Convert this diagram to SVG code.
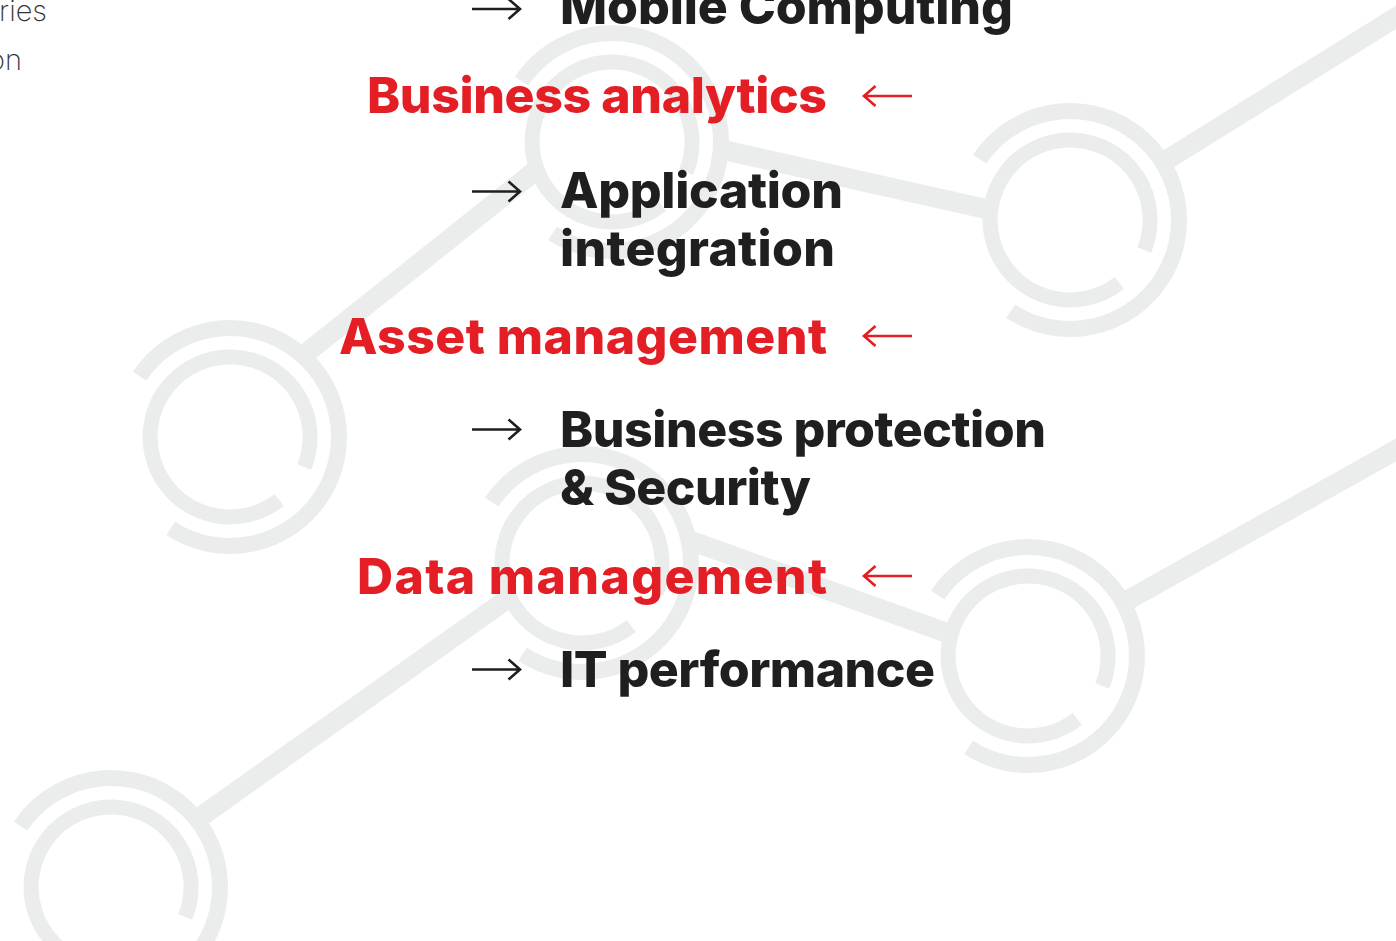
<svg xmlns="http://www.w3.org/2000/svg" width="1396" height="941" viewBox="0 0 1396 941">
  <style>
    .bg { fill: #ffffff; }
    .link { stroke: #ebecec; stroke-width: 20; fill: none; stroke-linecap: butt; }
    .outer { stroke: #ebecec; stroke-width: 16; fill: none; stroke-linecap: butt; }
    .inner { stroke: #ebecec; stroke-width: 15; fill: none; stroke-linecap: butt; }
    .lbl { font-family: Inter, "Liberation Sans", sans-serif; font-weight: 800; font-size: 50px; }
    .dark { fill: #1f1f1f; }
    .red { fill: #e31e25; }
    .thin { font-family: Inter, "Liberation Sans", sans-serif; font-weight: 200; font-size: 29px; fill: #333333; }
    .arr-dark { stroke: #1f1f1f; stroke-width: 2.6; fill: none; stroke-linecap: butt; stroke-linejoin: miter; }
    .arr-red { stroke: #e31e25; stroke-width: 2.6; fill: none; stroke-linecap: butt; stroke-linejoin: miter; }
  </style>
  <defs>
    <g id="ring">
      <path class="outer" d="M -90.4 -60.9 A 109 109 0 1 1 -59.4 91.4"/>
      <path class="inner" d="M 49.3 63 A 80 80 0 1 1 74.2 30"/>
    </g>
    <path id="arrow-right" d="M 0 0 H 48 M 36.5 -10 L 48 0 L 36.5 10"/>
    <path id="arrow-left" d="M 50 0 H 2 M 13.5 -10 L 2 0 L 13.5 10"/>
  </defs>
  <rect class="bg" x="0" y="0" width="1396" height="941"/>

  <g id="connectors">
    <line class="link" x1="1162.6" y1="162.5" x2="1427" y2="-2"/>
    <line class="link" x1="720.8" y1="149.4" x2="990.5" y2="210.1"/>
    <line class="link" x1="302.9" y1="355.8" x2="536.7" y2="169.6"/>
    <line class="link" x1="196.8" y1="819.5" x2="509.6" y2="597.3"/>
    <line class="link" x1="688.4" y1="539.8" x2="951" y2="634.3"/>
    <line class="link" x1="1123.1" y1="602.8" x2="1425" y2="433.7"/>
  </g>

  <g id="node-1" transform="translate(1070,220)"><use href="#ring"/></g>
  <g id="node-2" transform="translate(612,142)"><use href="#ring"/></g>
  <g id="node-3" transform="translate(230,437)"><use href="#ring"/></g>
  <g id="node-4" transform="translate(582,563)"><use href="#ring"/></g>
  <g id="node-5" transform="translate(1028,656)"><use href="#ring"/></g>
  <g id="node-6" transform="translate(111,887)"><use href="#ring"/></g>

  <g id="side-text">
    <text class="thin" x="47" y="21" text-anchor="end">ries</text>
    <text class="thin" x="22" y="70" text-anchor="end">on</text>
  </g>

  <g id="item-mobile">
    <use class="arr-dark" href="#arrow-right" x="472" y="9"/>
    <text class="lbl dark" x="560" y="24" textLength="453" lengthAdjust="spacing">Mobile Computing</text>
  </g>
  <g id="item-business-analytics">
    <text class="lbl red" x="367" y="113" textLength="460" lengthAdjust="spacing">Business analytics</text>
    <use class="arr-red" href="#arrow-left" x="862" y="96"/>
  </g>
  <g id="item-application">
    <use class="arr-dark" href="#arrow-right" x="472" y="191.5"/>
    <text class="lbl dark" x="560" y="208" textLength="283" lengthAdjust="spacing">Application</text>
    <text class="lbl dark" x="560" y="266" textLength="275" lengthAdjust="spacing">integration</text>
  </g>
  <g id="item-asset">
    <text class="lbl red" x="339" y="354" textLength="488" lengthAdjust="spacing">Asset management</text>
    <use class="arr-red" href="#arrow-left" x="862" y="336"/>
  </g>
  <g id="item-protection">
    <use class="arr-dark" href="#arrow-right" x="472" y="429.5"/>
    <text class="lbl dark" x="560" y="447" textLength="486" lengthAdjust="spacing">Business protection</text>
    <text class="lbl dark" x="560" y="505" textLength="251" lengthAdjust="spacing">&amp; Security</text>
  </g>
  <g id="item-data">
    <text class="lbl red" x="357" y="594" textLength="470" lengthAdjust="spacing">Data management</text>
    <use class="arr-red" href="#arrow-left" x="862" y="576"/>
  </g>
  <g id="item-it">
    <use class="arr-dark" href="#arrow-right" x="472" y="669.5"/>
    <text class="lbl dark" x="560" y="687" textLength="375" lengthAdjust="spacing">IT performance</text>
  </g>
</svg>
